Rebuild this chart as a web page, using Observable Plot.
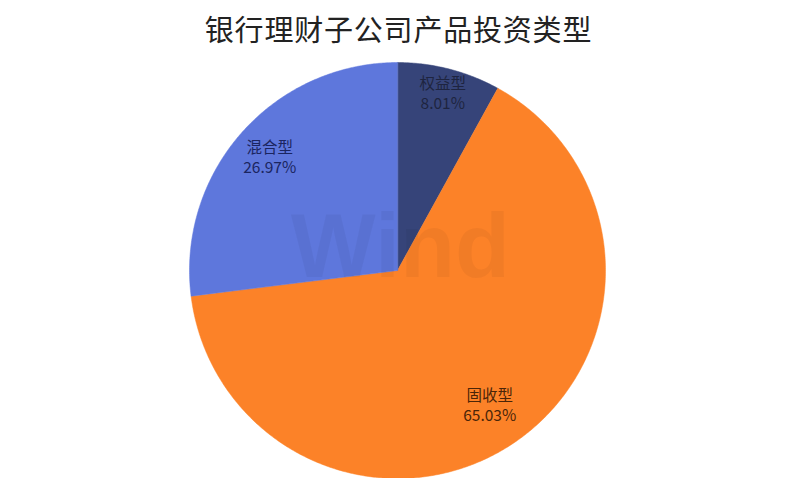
<!DOCTYPE html>
<html><head><meta charset="utf-8">
<script src="https://cdn.jsdelivr.net/npm/d3@7"></script>
<script src="https://cdn.jsdelivr.net/npm/@observablehq/plot@0.6"></script>
<style>body{margin:0;background:#fff}</style>
</head><body><div id="chart"></div>
<script>
const titleText = "银行理财子公司产品投资类型";
const categories = ["权益型", "固收型", "混合型"];
const shares = [8.01, 65.03, 26.97];
const shareLabels = ["8.01%", "65.03%", "26.97%"];
const colors = ["#364479", "#FC8228", "#5E77DC"];
const labelColors = ["#1e2440", "#4a2508", "#1b2560"];
const labelRadius = [0.875, 0.79, 0.82];

const W = 796, H = 478, cx = 397, cy = 270, R = 208;
const total = d3.sum(shares);
let acc = 0;
const slices = categories.map((c, i) => {
  const a0 = acc / total * 2 * Math.PI;
  acc += shares[i];
  const a1 = acc / total * 2 * Math.PI;
  const pts = [{x: 0, y: 0}];
  const n = Math.max(2, Math.ceil((a1 - a0) / (Math.PI / 360)));
  for (let k = 0; k <= n; k++) {
    const a = a0 + (a1 - a0) * k / n;
    pts.push({x: Math.sin(a), y: Math.cos(a)});
  }
  const am = (a0 + a1) / 2;
  return {c, i, pts, lx: labelRadius[i] * Math.sin(am), ly: labelRadius[i] * Math.cos(am)};
});

const marks = [];
slices.forEach(s => {
  marks.push(Plot.line(s.pts, {x: "x", y: "y", fill: colors[s.i], stroke: colors[s.i], strokeWidth: 0.5, curve: "linear-closed"}));
});
marks.push(Plot.text(["Wind"], {x: () => 0.014, y: () => 0.106, text: d => d, fontSize: 90, fontWeight: "bold", fontFamily: "Arial, 'Liberation Sans', sans-serif", fill: "#000", fillOpacity: 0.045}));
marks.push(Plot.text(slices, {x: "lx", y: "ly", text: d => d.c, dy: -10, fontSize: 15.5, fontFamily: "'Noto Sans CJK SC', sans-serif", fill: d => labelColors[d.i]}));
marks.push(Plot.text(slices, {x: "lx", y: "ly", text: d => shareLabels[d.i], dy: 10, fontSize: 15.5, fontFamily: "'Noto Sans CJK SC', sans-serif", fill: d => labelColors[d.i]}));
marks.push(Plot.text([titleText], {frameAnchor: "top", dy: 31, text: d => d, fontSize: 29, fontFamily: "'Noto Sans CJK SC', sans-serif", fill: "#222", lineAnchor: "middle"}));

const chart = Plot.plot({
  width: W, height: H, margin: 0,
  x: {domain: [-cx / R, (W - cx) / R], axis: null},
  y: {domain: [-(H - cy) / R, cy / R], axis: null},
  style: {background: "#fff"},
  marks
});
chart.querySelectorAll("text").forEach(t => { if (t.textContent === titleText) t.setAttribute("letter-spacing", "0.8px"); });
document.getElementById("chart").appendChild(chart);
</script>
</body></html>
